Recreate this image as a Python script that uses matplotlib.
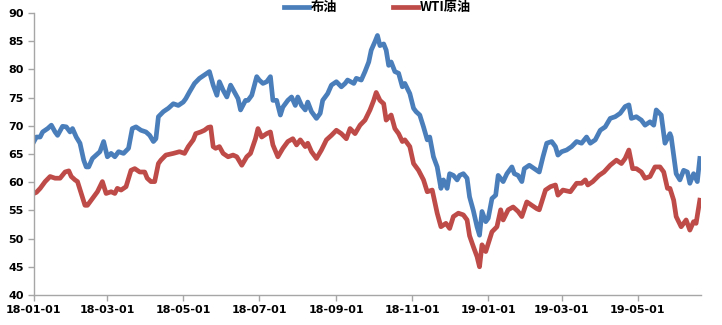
import matplotlib
matplotlib.use("Agg")
import matplotlib.pyplot as plt
import matplotlib.dates as mdates
import pandas as pd

plt.rcParams['font.family'] = ['Noto Sans CJK SC', 'DejaVu Sans']

brent_dates = [
    "2018-01-01", "2018-01-03", "2018-01-06", "2018-01-08", "2018-01-12", "2018-01-15", "2018-01-18",
    "2018-01-20", "2018-01-24", "2018-01-27", "2018-01-30", "2018-02-01", "2018-02-04", "2018-02-07",
    "2018-02-10", "2018-02-12", "2018-02-14", "2018-02-17", "2018-02-20", "2018-02-23", "2018-02-26",
    "2018-03-01", "2018-03-04", "2018-03-07", "2018-03-10", "2018-03-14", "2018-03-18", "2018-03-21",
    "2018-03-24", "2018-03-28", "2018-04-01", "2018-04-04", "2018-04-07", "2018-04-09", "2018-04-11",
    "2018-04-15", "2018-04-19", "2018-04-23", "2018-04-27", "2018-05-01", "2018-05-03", "2018-05-06",
    "2018-05-10", "2018-05-14", "2018-05-18", "2018-05-22", "2018-05-25", "2018-05-28", "2018-05-30",
    "2018-06-02", "2018-06-05", "2018-06-08", "2018-06-11", "2018-06-14", "2018-06-16", "2018-06-20",
    "2018-06-22", "2018-06-25", "2018-06-29", "2018-07-01", "2018-07-04", "2018-07-07", "2018-07-10",
    "2018-07-12", "2018-07-15", "2018-07-18", "2018-07-20", "2018-07-24", "2018-07-27", "2018-07-30",
    "2018-08-01", "2018-08-04", "2018-08-07", "2018-08-09", "2018-08-12", "2018-08-16", "2018-08-19",
    "2018-08-21", "2018-08-25", "2018-08-28", "2018-09-01", "2018-09-05", "2018-09-08", "2018-09-10",
    "2018-09-15", "2018-09-17", "2018-09-21", "2018-09-24", "2018-09-27", "2018-09-29", "2018-10-02",
    "2018-10-04", "2018-10-06", "2018-10-09", "2018-10-11", "2018-10-13", "2018-10-15", "2018-10-18",
    "2018-10-21", "2018-10-24", "2018-10-26", "2018-10-30", "2018-11-02", "2018-11-04", "2018-11-07",
    "2018-11-10", "2018-11-13", "2018-11-15", "2018-11-18", "2018-11-21", "2018-11-24", "2018-11-26",
    "2018-11-29", "2018-12-01", "2018-12-04", "2018-12-07", "2018-12-09", "2018-12-12", "2018-12-15",
    "2018-12-17", "2018-12-20", "2018-12-23", "2018-12-25", "2018-12-27", "2018-12-30", "2019-01-01",
    "2019-01-04", "2019-01-07", "2019-01-09", "2019-01-13", "2019-01-16", "2019-01-20", "2019-01-22",
    "2019-01-25", "2019-01-28", "2019-01-30", "2019-02-03", "2019-02-07", "2019-02-11", "2019-02-14",
    "2019-02-17", "2019-02-21", "2019-02-24", "2019-02-26", "2019-03-01", "2019-03-05", "2019-03-09",
    "2019-03-13", "2019-03-17", "2019-03-21", "2019-03-24", "2019-03-28", "2019-04-01", "2019-04-05",
    "2019-04-09", "2019-04-13", "2019-04-17", "2019-04-21", "2019-04-24", "2019-04-26", "2019-04-30",
    "2019-05-04", "2019-05-07", "2019-05-11", "2019-05-14", "2019-05-16", "2019-05-20", "2019-05-23",
    "2019-05-27", "2019-05-28", "2019-06-01", "2019-06-04", "2019-06-07", "2019-06-10", "2019-06-12",
    "2019-06-15", "2019-06-18", "2019-06-20",
]
brent = [
    67.2, 68.0, 68.0, 68.9, 69.5, 70.1, 68.9,
    68.3, 69.9, 69.8, 68.9, 69.5, 68.0, 66.9,
    63.9, 62.7, 62.7, 64.2, 64.8, 65.4, 67.2,
    64.5, 65.1, 64.5, 65.4, 65.1, 66.0, 69.5,
    69.8, 69.2, 68.9, 68.3, 67.2, 67.7, 71.6,
    72.5, 73.1, 73.9, 73.6, 74.2, 74.8, 76.0,
    77.5, 78.4, 79.0, 79.6, 77.2, 75.4, 77.8,
    76.3, 75.1, 77.2, 76.0, 74.8, 72.8, 74.5,
    74.5, 75.4, 78.7, 78.1, 77.5, 77.8, 78.7,
    74.5, 74.5, 71.9, 73.3, 74.5, 75.1, 73.6,
    75.1, 73.6, 72.8, 74.2, 72.5, 71.3, 72.2,
    74.5, 75.7, 77.2, 77.8, 76.9, 77.5, 78.1,
    77.5, 78.4, 78.1, 79.6, 81.3, 83.4, 84.9,
    86.0, 84.2, 84.5, 83.4, 80.7, 81.3, 79.6,
    79.3, 76.9, 77.5, 75.7, 73.1, 72.5, 71.9,
    69.8, 67.5, 68.0, 64.5, 62.7, 58.9, 60.4,
    58.9, 61.5, 61.2, 60.4, 61.2, 61.5, 60.7,
    57.4, 55.0, 52.1, 50.6, 54.8, 53.0, 53.6,
    57.1, 57.7, 61.2, 60.1, 61.5, 62.7, 61.5,
    61.2, 60.1, 62.4, 63.0, 62.4, 61.8, 64.5,
    66.9, 67.2, 66.3, 64.8, 65.4, 65.7, 66.3,
    67.2, 66.9, 68.0, 66.9, 67.5, 69.2, 69.8,
    71.3, 71.6, 72.2, 73.4, 73.7, 71.3, 71.6,
    71.0, 70.1, 70.7, 70.1, 72.8, 71.9, 66.9,
    68.6, 68.0, 61.5, 60.4, 62.1, 61.8, 59.8,
    61.5, 60.1, 64.2,
]

wti_dates = [
    "2018-01-01", "2018-01-03", "2018-01-06", "2018-01-10", "2018-01-14", "2018-01-18", "2018-01-22",
    "2018-01-26", "2018-01-29", "2018-01-31", "2018-02-03", "2018-02-05", "2018-02-08", "2018-02-11",
    "2018-02-13", "2018-02-16", "2018-02-19", "2018-02-21", "2018-02-25", "2018-02-28", "2018-03-04",
    "2018-03-07", "2018-03-09", "2018-03-12", "2018-03-16", "2018-03-20", "2018-03-23", "2018-03-27",
    "2018-03-31", "2018-04-02", "2018-04-05", "2018-04-08", "2018-04-11", "2018-04-13", "2018-04-17",
    "2018-04-23", "2018-04-28", "2018-05-02", "2018-05-05", "2018-05-09", "2018-05-11", "2018-05-15",
    "2018-05-18", "2018-05-21", "2018-05-23", "2018-05-25", "2018-05-27", "2018-05-30", "2018-06-02",
    "2018-06-06", "2018-06-10", "2018-06-13", "2018-06-17", "2018-06-21", "2018-06-24", "2018-06-28",
    "2018-06-30", "2018-07-03", "2018-07-07", "2018-07-10", "2018-07-12", "2018-07-16", "2018-07-20",
    "2018-07-24", "2018-07-28", "2018-07-31", "2018-08-03", "2018-08-07", "2018-08-09", "2018-08-12",
    "2018-08-16", "2018-08-20", "2018-08-24", "2018-08-28", "2018-09-01", "2018-09-05", "2018-09-09",
    "2018-09-12", "2018-09-16", "2018-09-20", "2018-09-24", "2018-09-28", "2018-10-01", "2018-10-03",
    "2018-10-06", "2018-10-09", "2018-10-11", "2018-10-15", "2018-10-18", "2018-10-21", "2018-10-24",
    "2018-10-26", "2018-10-30", "2018-11-02", "2018-11-06", "2018-11-10", "2018-11-13", "2018-11-17",
    "2018-11-21", "2018-11-24", "2018-11-28", "2018-12-01", "2018-12-04", "2018-12-08", "2018-12-12",
    "2018-12-15", "2018-12-17", "2018-12-20", "2018-12-23", "2018-12-25", "2018-12-27", "2018-12-30",
    "2019-01-01", "2019-01-04", "2019-01-08", "2019-01-11", "2019-01-13", "2019-01-17", "2019-01-21",
    "2019-01-25", "2019-01-28", "2019-02-01", "2019-02-05", "2019-02-09", "2019-02-11", "2019-02-16",
    "2019-02-20", "2019-02-24", "2019-02-26", "2019-03-02", "2019-03-08", "2019-03-13", "2019-03-17",
    "2019-03-20", "2019-03-22", "2019-03-26", "2019-03-31", "2019-04-04", "2019-04-09", "2019-04-14",
    "2019-04-18", "2019-04-21", "2019-04-24", "2019-04-27", "2019-04-30", "2019-05-04", "2019-05-07",
    "2019-05-11", "2019-05-15", "2019-05-19", "2019-05-22", "2019-05-25", "2019-05-27", "2019-05-30",
    "2019-06-01", "2019-06-05", "2019-06-09", "2019-06-12", "2019-06-15", "2019-06-17", "2019-06-20",
]
wti = [
    58.0, 58.2, 58.9, 60.1, 61.0, 60.7, 60.7,
    61.8, 62.0, 61.0, 60.4, 60.1, 58.0, 55.9,
    55.9, 56.8, 57.7, 58.3, 60.1, 58.0, 58.3,
    58.0, 58.9, 58.6, 59.2, 62.1, 62.4, 61.8,
    61.8, 60.7, 60.1, 60.1, 63.3, 63.9, 64.8,
    65.1, 65.4, 65.1, 66.3, 67.5, 68.6, 68.9,
    69.2, 69.7, 69.8, 66.3, 66.0, 66.3, 65.1,
    64.5, 64.8, 64.5, 63.0, 64.5, 65.1, 67.7,
    69.5, 68.0, 68.6, 68.9, 66.6, 64.5, 66.0,
    67.2, 67.7, 66.6, 67.5, 66.3, 66.9, 65.4,
    64.2, 65.7, 67.5, 68.3, 69.2, 68.6, 67.7,
    69.5, 68.6, 70.1, 71.0, 72.8, 74.5, 75.9,
    74.5, 73.9, 71.0, 71.9, 69.5, 68.6, 67.2,
    67.5, 66.3, 63.3, 62.1, 60.4, 58.3, 58.6,
    54.5, 52.1, 52.7, 51.8, 53.9, 54.5, 54.2,
    53.3, 50.5, 48.6, 46.8, 45.0, 48.9, 47.7,
    49.1, 51.2, 52.1, 55.1, 53.3, 55.1, 55.6,
    54.8, 53.9, 56.5, 55.9, 55.3, 55.1, 58.6,
    59.2, 59.5, 57.7, 58.6, 58.3, 59.8, 59.8,
    60.4, 59.5, 60.1, 61.2, 61.8, 63.0, 63.9,
    63.3, 64.2, 65.7, 62.4, 62.4, 61.8, 60.7,
    61.0, 62.7, 62.7, 61.8, 58.9, 58.9, 56.8,
    53.9, 52.1, 53.3, 51.5, 53.0, 52.7, 56.8,
]

series_names = ["布油", "WTI原油"]
tick_dates = ["2018-01-01", "2018-03-01", "2018-05-01", "2018-07-01", "2018-09-01",
              "2018-11-01", "2019-01-01", "2019-03-01", "2019-05-01"]
y_ticks = [40, 45, 50, 55, 60, 65, 70, 75, 80, 85, 90]

fig = plt.figure(figsize=(7.22, 3.25), dpi=100)
ax = fig.add_axes([0.047, 0.0923, 0.924, 0.868])

ax.plot(pd.to_datetime(brent_dates), brent, color="#4a7ebb", lw=3.4,
        solid_joinstyle="round", label=series_names[0])
ax.plot(pd.to_datetime(wti_dates), wti, color="#be4b48", lw=3.4,
        solid_joinstyle="round", label=series_names[1])

ax.set_ylim(40, 90)
ax.set_yticks(y_ticks)
ax.set_xlim(pd.Timestamp("2018-01-01"), pd.Timestamp("2019-06-21"))
ax.set_xticks(pd.to_datetime(tick_dates))
ax.xaxis.set_major_formatter(mdates.DateFormatter("%y-%m-%d"))

for s in ["top", "right"]:
    ax.spines[s].set_visible(False)
for s in ["left", "bottom"]:
    ax.spines[s].set_color("#a6a6a6")
    ax.spines[s].set_linewidth(1.0)
ax.tick_params(axis="both", colors="#a6a6a6", length=4, width=1.0, direction="out",
               labelcolor="black", labelsize=8)
for lab in ax.get_xticklabels() + ax.get_yticklabels():
    lab.set_fontweight("bold")
    lab.set_family("DejaVu Sans")

fig.legend(loc="center", bbox_to_anchor=(0.523, 0.978), ncol=2, frameon=False,
           prop={"size": 9.5, "weight": "bold"}, handlelength=1.9, handletextpad=0.15,
           columnspacing=4.2, borderpad=0.1)

fig.savefig("out.png", dpi=100)
